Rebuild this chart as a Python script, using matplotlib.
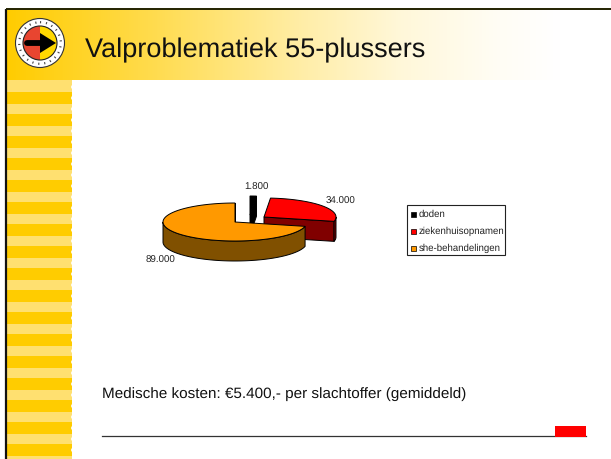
import numpy as np
import matplotlib
matplotlib.use('Agg')
import matplotlib.pyplot as plt
from matplotlib.patches import Polygon, Rectangle, Circle, Wedge

plt.rcParams['font.family'] = ['Liberation Sans', 'DejaVu Sans']
plt.rcParams['text.hinting'] = 'no_hinting'

# chart data
categories = ['doden', 'ziekenhuisopnamen', 'she-behandelingen']
values = [1800, 34000, 89000]
value_labels = ['1.800', '34.000', '89.000']
colors = ['#000000', '#ff0000', '#ff9900']
side_colors = ['#000000', '#800000', '#805000']

title = 'Valproblematiek 55-plussers'
caption = 'Medische kosten: €5.400,- per slachtoffer (gemiddeld)'

# pixel coordinates, same as the screenshot
fig = plt.figure(figsize=(6.11, 4.59), dpi=100)
ax = fig.add_axes([0, 0, 1, 1])
ax.axis('off')

# header gradient, fades out before the right edge
xs = np.linspace(6, 611, 256)
blue = np.interp(xs, [6, 150, 300, 400, 500, 560], [0, 0.3, 0.65, 0.85, 0.96, 1])
rgb = np.ones((1, 256, 3))
rgb[0, :, 1] = 0.80 + 0.20 * blue
rgb[0, :, 2] = blue
ax.imshow(rgb, extent=(6, 611, 80, 9), aspect='auto', zorder=1)
ax.set_xlim(0, 611)
ax.set_ylim(459, 0)

# left stripes
ax.add_patch(Rectangle((6, 80), 66, 379, fc='#ffe070', ec='none', zorder=1))
for y in range(92, 459, 22):
    ax.add_patch(Rectangle((6, y), 66, 12, fc='#ffcc00', ec='none', zorder=2))
    ax.add_patch(Circle((73.5, y + 6), 2.4, fc='white', ec='none', zorder=3))
    ax.add_patch(Circle((73.5, y - 5), 2.4, fc='white', ec='none', zorder=3))

# border
ax.plot([6, 6], [459, 9], color='#111111', lw=1.6, zorder=4, solid_capstyle='butt')
ax.plot([6, 611], [9, 9], color='#222200', lw=1.4, zorder=4, solid_capstyle='butt')

# logo
ax.add_patch(Circle((40, 43), 24.5, fc='white', ec='#333333', lw=0.8, zorder=5))
ax.add_patch(Circle((40, 43), 20.8, fc='none', ec='#444444', lw=1.6, ls=(0, (0.5, 2.2)), zorder=5))
ax.add_patch(Wedge((40, 43), 17, 90, 270, fc='#e84530', ec='none', zorder=6))
ax.add_patch(Wedge((40, 43), 17, 270, 90, fc='#ffd800', ec='none', zorder=6))
ax.add_patch(Circle((40, 43), 17, fc='none', ec='#222222', lw=0.8, zorder=6))
ax.plot([27, 44], [43, 43], color='black', lw=4.2, zorder=7, solid_capstyle='round')
ax.add_patch(Polygon([(40, 33), (56, 43), (40, 53)], fc='black', ec='none', zorder=7))

ax.text(85, 57, title, fontsize=19.5, color='#111111', zorder=8, va='baseline')

# exploded 3d pie
centers = [(250, 215), (264, 217), (235, 222)]
rx, ry, depth = 72, 19, 20
total = sum(values)
start = 90.0


def rim(cx, cy, a0, a1):
    t = np.radians(np.linspace(a0, a1, 160))
    return np.column_stack([cx + rx * np.cos(t), cy - ry * np.sin(t)])


for i, val in enumerate(values):
    end = start - 360.0 * val / total
    cx, cy = centers[i]
    # cut face on the clockwise side of the slice
    p = rim(cx, cy, end, end)[0]
    face = [(cx, cy), tuple(p), (p[0], p[1] + depth), (cx, cy + depth)]
    z = 10 + i * 2
    ax.add_patch(Polygon(face, fc=side_colors[i], ec='black', lw=0.7, zorder=z))
    # outer wall, only the part turned to the viewer
    lo = max(end, -180.0)
    hi = min(start, 0.0)
    if end <= 0 and hi > lo:
        arc = rim(cx, cy, lo, hi)
        wall = np.vstack([arc, (arc + [0, depth])[::-1]])
        ax.add_patch(Polygon(wall, fc=side_colors[i], ec='black', lw=0.7, zorder=z))
    # top of the slice
    top = np.vstack([[(cx, cy)], rim(cx, cy, start, end)])
    ax.add_patch(Polygon(top, fc=colors[i], ec='black', lw=0.7, zorder=z + 1))
    start = end

ax.text(256, 187, value_labels[0], fontsize=7, ha='center', va='center', color='#222222', zorder=20)
ax.text(341, 201, value_labels[1], fontsize=7, ha='center', va='center', color='#222222', zorder=20)
ax.text(160, 260, value_labels[2], fontsize=7, ha='center', va='center', color='#222222', zorder=20)

# legend
ax.add_patch(Rectangle((407, 205), 98, 50, fc='white', ec='#222222', lw=0.8, zorder=10))
for i, name in enumerate(categories):
    y = 214 + i * 17
    ax.add_patch(Rectangle((410.5, y - 2.5), 5, 5, fc=colors[i], ec='black', lw=0.5, zorder=11))
    ax.text(419, y, name, fontsize=6.9, va='center', color='#222222', zorder=11)

# caption and footer
ax.text(102, 394, caption, fontsize=11, va='center', color='#111111', zorder=8)
ax.plot([102, 586], [435.5, 435.5], color='#333333', lw=0.9, zorder=8)
ax.add_patch(Rectangle((555, 426), 31, 10.5, fc='#ff0000', ec='none', zorder=9))

fig.savefig('out.png', dpi=100)
